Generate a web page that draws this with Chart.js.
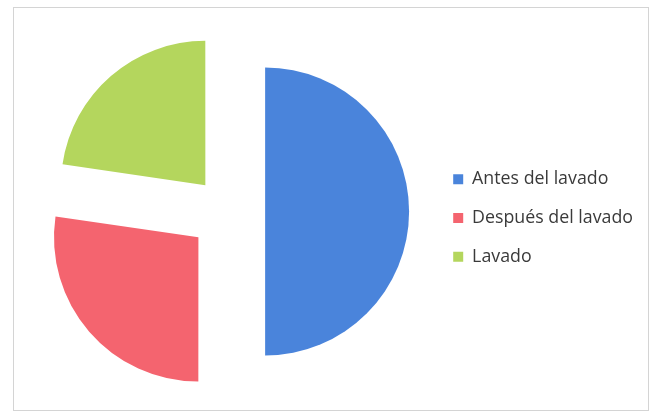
<!DOCTYPE html>
<html>
<head>
<meta charset="utf-8">
<script src="https://cdn.jsdelivr.net/npm/chart.js@4.4.0/dist/chart.umd.min.js"></script>
<style>
    body { margin: 0; background: #fff; }
    #frame { position: absolute; left: 13px; top: 7px; width: 634px; height: 402px; border: 1px solid #d4d4d4; }
    #wrap { position: absolute; left: 0; top: 0; width: 653px; height: 418px; }
</style>
</head>
<body>
<div id="frame"></div>
<div id="wrap"><canvas id="lavado"></canvas></div>
<script>
var labels = ["Antes del lavado", "Después del lavado", "Lavado"];
var values = [50, 27.3, 22.7];
var colors = ["#4a84db", "#f4646f", "#b4d65d"];
var explode = [0, 157, 139];   // offset/4 is the real gap
var blueGap = 37;

// chart.js swells and bends a half-circle slice when it gets an offset,
// so the blue half is pushed out here instead
var pushBlue = {
    id: 'pushBlue',
    afterDatasetUpdate: function (chart, args) {
        var arc = args.meta.data[0];
        var mid = (arc.startAngle + arc.endAngle) / 2;
        arc.x += Math.cos(mid) * blueGap;
        arc.y += Math.sin(mid) * blueGap;
    }
};

var ctx = document.getElementById('lavado').getContext('2d');
var chart = new Chart(ctx, {
    type: 'pie',
    data: {
        labels: labels,
        datasets: [{
            data: values,
            backgroundColor: colors,
            offset: explode,
            borderWidth: 0,
            radius: 144
        }]
    },
    options: {
        responsive: true,
        maintainAspectRatio: false,
        animation: false,
        events: [],
        layout: {
            padding: { left: 24, right: 10, top: 5, bottom: 0 }
        },
        plugins: {
            tooltip: { enabled: false },
            legend: {
                position: 'right',
                title: { display: true, text: '', padding: 0, font: { size: 13, lineHeight: 1 } },
                labels: {
                    boxWidth: 10,
                    boxHeight: 10,
                    padding: 21,
                    color: "#3a3a3a",
                    font: { family: "'Open Sans', sans-serif", size: 17.8 }
                }
            }
        }
    },
    plugins: [pushBlue]
});
</script>
</body>
</html>
